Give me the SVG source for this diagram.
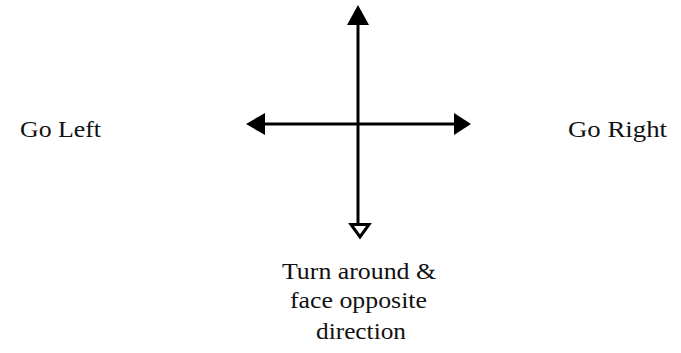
<svg xmlns="http://www.w3.org/2000/svg" width="681" height="353" viewBox="0 0 681 353">
<style>
.lbl{font-family:"Liberation Serif","Times New Roman",serif;font-size:24px;fill:#111}
.ln{stroke:#000;stroke-width:3;fill:none}
</style>
<rect width="681" height="353" fill="#fff"/>
<g id="connectors">
<line class="ln" x1="358" y1="20" x2="358" y2="224"/>
<line class="ln" x1="260" y1="124" x2="458" y2="124"/>
<polygon points="358,5 347,25 369,25" fill="#000"/>
<polygon points="246,124 265,113 265,135" fill="#000"/>
<polygon points="471,124 454,113 454,135" fill="#000"/>
<polygon points="351,224.5 369,224.5 360,237" fill="#fff" stroke="#000" stroke-width="3" stroke-linejoin="miter"/>
</g>
<g id="left"><text class="lbl" x="20" y="137" textLength="81" lengthAdjust="spacingAndGlyphs">Go Left</text></g>
<g id="right"><text class="lbl" x="568" y="137" textLength="99" lengthAdjust="spacingAndGlyphs">Go Right</text></g>
<g id="back">
<text class="lbl" x="282" y="279" textLength="154" lengthAdjust="spacingAndGlyphs">Turn around &amp;</text>
<text class="lbl" x="290" y="308" textLength="137" lengthAdjust="spacingAndGlyphs">face opposite</text>
<text class="lbl" x="316" y="339" textLength="90" lengthAdjust="spacingAndGlyphs">direction</text>
</g>
</svg>
